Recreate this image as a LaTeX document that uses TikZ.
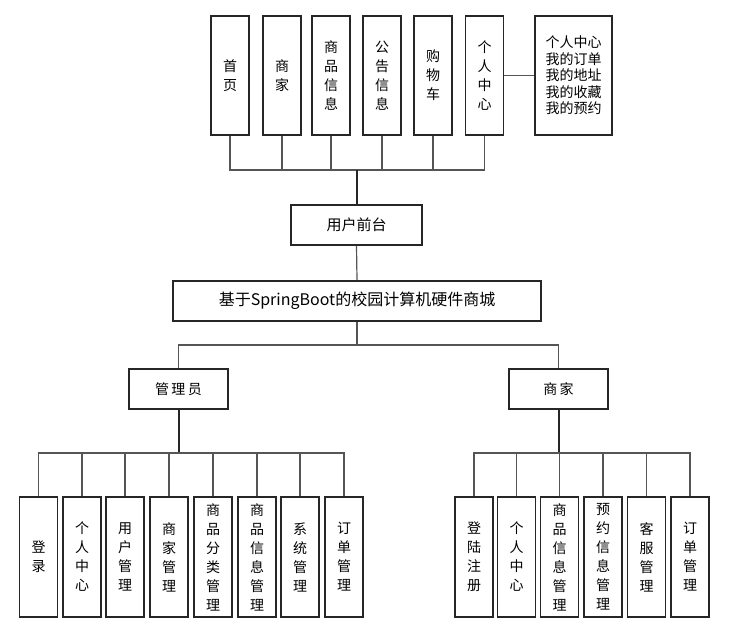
\documentclass[tikz,border=0pt]{standalone}
\usepackage{fontspec}
\newfontfamily\cjk{Noto Sans CJK SC}
\definecolor{boxc}{HTML}{262626}
\definecolor{linec}{HTML}{555555}
\begin{document}
\begin{tikzpicture}[x=1pt,y=-1pt,
 box/.style={draw=boxc, line width=1.8pt, inner sep=0pt, align=center, text=black, font=\cjk\fontsize{14}{19}\selectfont},
 vbox/.style={box, minimum width=38pt},
 tbox/.style={vbox, minimum height=119pt},
 bbox/.style={vbox, minimum height=120pt},
 hbox/.style={box, minimum height=40pt, font=\cjk\fontsize{15}{18}\selectfont},
 conn/.style={draw=linec, line width=1.2pt},
 trunk/.style={draw=boxc, line width=2pt}]
\useasboundingbox (0,0) rectangle (736,640);
% top row
\node[tbox] (t1) at (230,75.5) {首\\页};
\node[tbox] (t2) at (282,75.5) {商\\家};
\node[tbox] (t3) at (331,75.5) {商\\品\\信\\息};
\node[tbox] (t4) at (382,75.5) {公\\告\\信\\息};
\node[tbox] (t5) at (433,75.5) {购\\物\\车};
\node[tbox] (t6) at (484.5,75.5) {个\\人\\中\\心};
\node[box, minimum width=77pt, minimum height=119pt, font=\cjk\fontsize{14}{16.5}\selectfont] (side) at (573.5,75.5) {个人中心\\我的订单\\我的地址\\我的收藏\\我的预约};
% middle
\node[hbox, minimum width=131pt] (fe) at (356.5,225) {用户前台};
\node[hbox, minimum width=368pt, font=\cjk\fontsize{16}{18}\selectfont] (title) at (357,301) {基于SpringBoot的校园计算机硬件商城};
\node[hbox, minimum width=99pt, font=\cjk\fontsize{14}{18}\selectfont] (adm) at (178.5,389) {管\,理\,员};
\node[hbox, minimum width=99pt, font=\cjk\fontsize{14}{18}\selectfont] (mer) at (558.5,389) {商\,家};
% bottom left
\node[bbox] (l1) at (38.5,557) {登\\录};
\node[bbox] (l2) at (82,557) {个\\人\\中\\心};
\node[bbox] (l3) at (125,557) {用\\户\\管\\理};
\node[bbox] (l4) at (169,557) {商\\家\\管\\理};
\node[bbox] (l5) at (213,557) {商\\品\\分\\类\\管\\理};
\node[bbox] (l6) at (257,557) {商\\品\\信\\息\\管\\理};
\node[bbox] (l7) at (300,557) {系\\统\\管\\理};
\node[bbox] (l8) at (344,557) {订\\单\\管\\理};
% bottom right
\node[bbox] (r1) at (474,557) {登\\陆\\注\\册};
\node[bbox] (r2) at (516.5,557) {个\\人\\中\\心};
\node[bbox] (r3) at (559.5,557) {商\\品\\信\\息\\管\\理};
\node[bbox] (r4) at (603,557) {预\\约\\信\\息\\管\\理};
\node[bbox] (r5) at (646.5,557) {客\\服\\管\\理};
\node[bbox] (r6) at (690,557) {订\\单\\管\\理};
% hubs
\coordinate (hubtop) at (357,170);
\coordinate (hubmid) at (357,345);
\coordinate (hubL) at (178,453);
\coordinate (hubR) at (559,453);
% top connectors
\draw[conn] (t1.south) |- (t6.south |- hubtop) -- (t6.south);
\foreach \n in {t2,t3,t4,t5} \draw[conn] (\n.south) -- (\n.south |- hubtop);
\draw[trunk] (fe.north) -- (fe.north |- hubtop);
\draw[conn] (t6.east) -- (side.west);
\draw[conn] (fe.south) -- (title.north);
% middle connectors
\draw[conn] (adm.north) |- (mer.north |- hubmid) -- (mer.north);
\draw[conn] (title.south) -- (title.south |- hubmid);
% bottom connectors
\draw[trunk] (adm.south) -- (adm.south |- hubL);
\draw[conn] (l1.north) |- (l8.north |- hubL) -- (l8.north);
\foreach \n in {l2,l3,l4,l5,l6,l7} \draw[conn] (\n.north) -- (\n.north |- hubL);
\draw[trunk] (mer.south) -- (mer.south |- hubR);
\draw[conn] (r1.north) |- (r6.north |- hubR) -- (r6.north);
\foreach \n in {r2,r3,r4,r5} \draw[conn] (\n.north) -- (\n.north |- hubR);
\end{tikzpicture}
\end{document}
